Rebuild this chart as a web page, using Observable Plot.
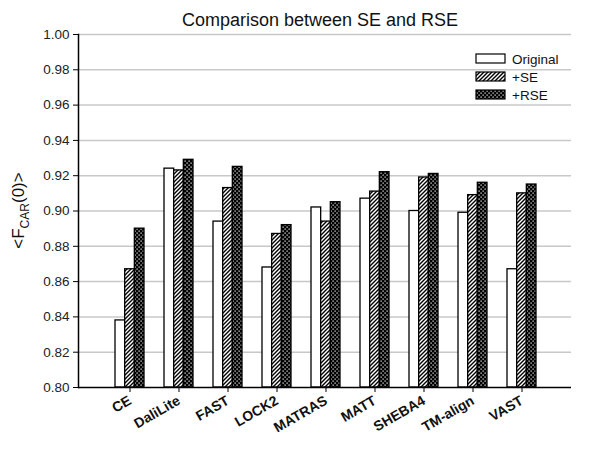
<!DOCTYPE html>
<html>
<head>
<meta charset="utf-8">
<script src="https://cdn.jsdelivr.net/npm/d3@7"></script>
<script src="https://cdn.jsdelivr.net/npm/@observablehq/plot@0.6"></script>
<style>
  html, body { margin: 0; padding: 0; background: #fff; }
  #chart { width: 600px; height: 459px; }
</style>
</head>
<body>
<div id="chart"></div>
<script>
const title = "Comparison between SE and RSE";
const categories = ["CE", "DaliLite", "FAST", "LOCK2", "MATRAS", "MATT", "SHEBA4", "TM-align", "VAST"];
const seriesNames = ["Original", "+SE", "+RSE"];
const original = [0.838, 0.924, 0.894, 0.868, 0.902, 0.907, 0.900, 0.899, 0.867];
const se       = [0.867, 0.923, 0.913, 0.887, 0.894, 0.911, 0.919, 0.909, 0.910];
const rse      = [0.890, 0.929, 0.925, 0.892, 0.905, 0.922, 0.921, 0.916, 0.915];
const yTicks = [0.80, 0.82, 0.84, 0.86, 0.88, 0.90, 0.92, 0.94, 0.96, 0.98, 1.00];

const rows = [];
const seriesVals = [original, se, rse];
categories.forEach((c, i) => {
  seriesNames.forEach((s, j) => rows.push({category: c, series: s, value: seriesVals[j][i]}));
});

const fills = {"Original": "white", "+SE": "url(#hatchSE)", "+RSE": "url(#dotsRSE)"};
const baseY = yTicks[0];
const bandW = 29, barW = bandW / 3;

function barsFor(name, k) {
  return Plot.barY(rows.filter(d => d.series === name), {
    x: "category", y1: () => baseY, y2: "value",
    fill: fills[name], stroke: "#000", strokeWidth: 1.3,
    insetLeft: k * barW, insetRight: (2 - k) * barW
  });
}

const svg = Plot.plot({
  width: 600, height: 459,
  marginTop: 34, marginBottom: 72, marginLeft: 78, marginRight: 29,
  style: {fontFamily: "'Liberation Sans', Arial, sans-serif", background: "white"},
  x: {type: "band", domain: categories, range: [103.7, 546.5], paddingInner: 0.41, paddingOuter: 0.205, label: null},
  y: {domain: [yTicks[0], yTicks[yTicks.length - 1]], label: null},
  marks: [
    Plot.gridY(yTicks.slice(1), {stroke: "#c8c8c8", strokeOpacity: 1, strokeWidth: 1.5}),
    barsFor("Original", 0),
    barsFor("+SE", 1),
    barsFor("+RSE", 2),
    Plot.ruleY([baseY], {stroke: "#000", strokeWidth: 1.5}),
    Plot.frame({anchor: "left", stroke: "#000", strokeWidth: 1.5}),
    Plot.axisY({ticks: yTicks, tickFormat: d3.format(".2f"), tickSize: 5, tickPadding: 4, fontSize: 13.5, fill: "#222", label: null}),
    Plot.axisX({tickSize: 5, tickPadding: 7, tickRotate: -30, fontSize: 14, fontWeight: "bold", fill: "#111", label: null}),
    Plot.text([title], {text: d => d, frameAnchor: "top", dx: -5, dy: -21, fontSize: 18, fill: "#111"})
  ]
});

const s = d3.select(svg);
const defs = s.insert("defs", ":first-child");
const h = defs.append("pattern").attr("id", "hatchSE").attr("patternUnits", "userSpaceOnUse")
  .attr("width", 4).attr("height", 4);
h.append("rect").attr("width", 4).attr("height", 4).attr("fill", "white");
h.append("path").attr("d", "M-1,1 L1,-1 M0,4 L4,0 M3,5 L5,3").attr("stroke", "#000").attr("stroke-width", 1.4);
const p = defs.append("pattern").attr("id", "dotsRSE").attr("patternUnits", "userSpaceOnUse")
  .attr("width", 4).attr("height", 4);
p.append("rect").attr("width", 4).attr("height", 4).attr("fill", "#000");
p.append("rect").attr("x", 0.5).attr("y", 0.5).attr("width", 1.2).attr("height", 1.2).attr("fill", "white");
p.append("rect").attr("x", 2.5).attr("y", 2.5).attr("width", 1.2).attr("height", 1.2).attr("fill", "white");

// y-axis label with subscript
const yScale = svg.scale("y");
const yMid = (yScale.range[0] + yScale.range[1]) / 2;
const lab = s.append("text")
  .attr("transform", `translate(24,${yMid}) rotate(-90)`)
  .attr("text-anchor", "middle")
  .attr("font-size", 17).attr("fill", "#111")
  .attr("font-family", "'Liberation Sans', Arial, sans-serif");
lab.append("tspan").text("<F");
lab.append("tspan").attr("font-size", 12).attr("dy", 5).text("CAR");
lab.append("tspan").attr("dy", -5).text("(0)>");

// legend
const lg = s.append("g").attr("font-family", "'Liberation Sans', Arial, sans-serif").attr("font-size", 13.5).attr("text-anchor", "start");
seriesNames.forEach((name, i) => {
  const y = 54 + i * 18;
  lg.append("rect").attr("x", 476).attr("y", y).attr("width", 29).attr("height", 9)
    .attr("fill", fills[name]).attr("stroke", "#000").attr("stroke-width", 1.2);
  lg.append("text").attr("x", 512).attr("y", y + 9.5).attr("fill", "#111").attr("text-anchor", "start").text(name);
});

document.getElementById("chart").appendChild(svg);
</script>
</body>
</html>
